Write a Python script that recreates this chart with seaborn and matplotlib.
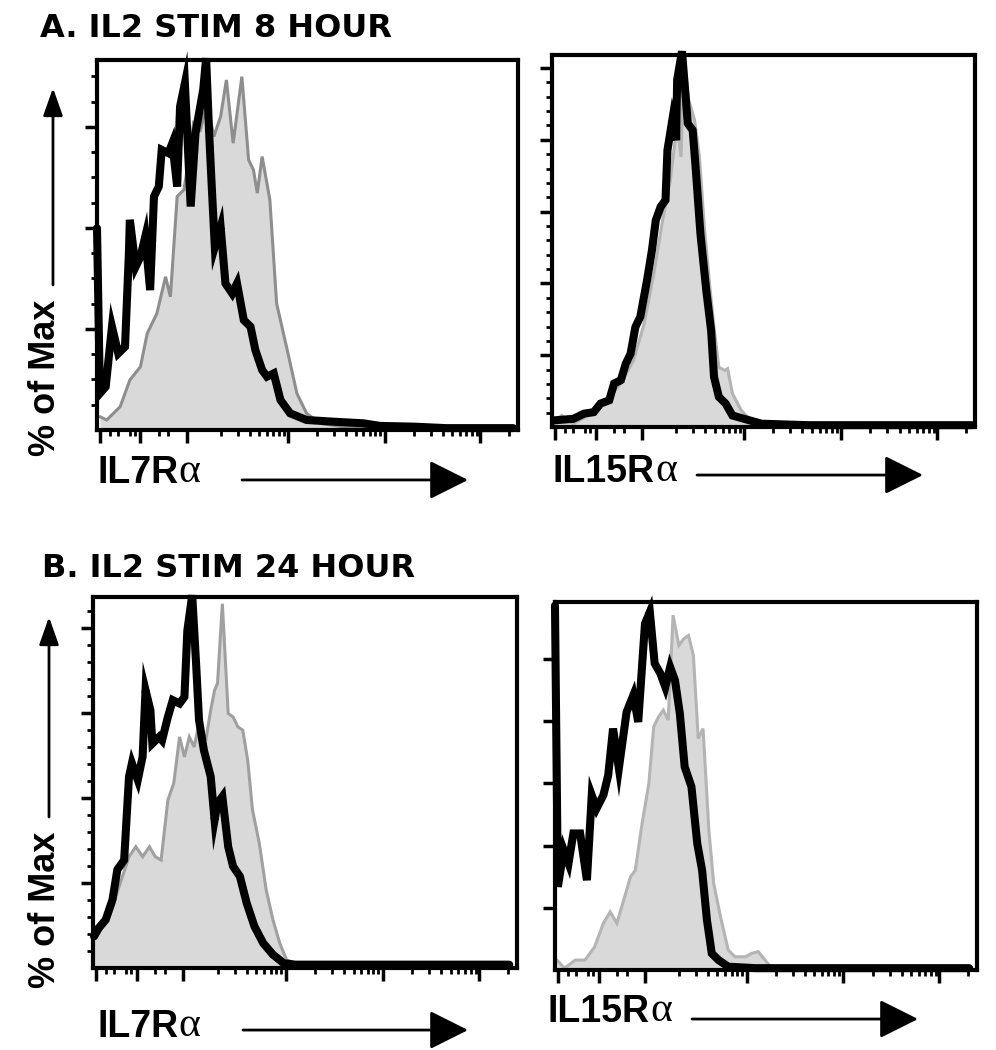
import numpy as np
import pandas as pd
import matplotlib
matplotlib.use("Agg")
import matplotlib.pyplot as plt
import seaborn as sns
from matplotlib.patches import FancyArrowPatch

sns.set_style("ticks")
plt.rcParams['font.family'] = ['Liberation Sans', 'DejaVu Sans']
plt.rcParams['text.color'] = 'black'

# x = fluorescence position in log-decades of the display, y = % of max
# A, IL7Ra (8 h): black = IL2 stimulated, grey filled = control
a_il7_stim_x = [0.0, 0.03, 0.09, 0.155, 0.22, 0.29, 0.33, 0.34, 0.40, 0.45, 0.50, 0.55, 0.59, 0.64,
                0.67, 0.74, 0.78, 0.83, 0.86, 0.91, 0.97, 1.02, 1.10, 1.13, 1.16, 1.19, 1.22, 1.28,
                1.33, 1.40, 1.45, 1.52, 1.59, 1.64, 1.71, 1.76, 1.83, 1.90, 2.00, 2.17, 2.41, 2.76,
                2.93, 3.28, 3.62, 4.31]
a_il7_stim_y = [54.5, 9.9, 11.7, 27.9, 20.7, 22.5, 47.7, 56.8, 44.1, 46.8, 52.3, 37.8, 63.1, 65.8,
                75.7, 74.8, 77.5, 65.8, 87.4, 93.7, 60.4, 80.2, 92.0, 100.5, 81.0, 64.9, 49.5, 54.9,
                39.6, 36.9, 39.6, 29.7, 27.9, 21.6, 16.2, 14.4, 15.3, 8.1, 4.5, 2.7, 2.3, 1.8,
                1.1, 0.9, 0.5, 0.5]
a_il7_ctrl_x = [0.03, 0.10, 0.24, 0.34, 0.45, 0.52, 0.62, 0.71, 0.76, 0.83, 0.90, 0.95, 1.00, 1.07,
                1.14, 1.21, 1.28, 1.34, 1.41, 1.50, 1.57, 1.62, 1.66, 1.71, 1.79, 1.86, 1.97, 2.07,
                2.17, 2.31, 2.59, 4.31]
a_il7_ctrl_y = [3.6, 2.7, 6.3, 13.5, 17.1, 26.1, 31.5, 41.4, 36.0, 63.1, 64.9, 73.0, 82.9, 81.1,
                88.3, 79.3, 84.7, 94.6, 77.5, 95.5, 73.0, 70.3, 64.0, 73.9, 62.2, 34.2, 21.6, 9.9,
                4.5, 1.8, 0.7, 0.5]

# A, IL15Ra (8 h)
a_il15_stim_x = [0.02, 0.22, 0.33, 0.43, 0.50, 0.59, 0.64, 0.71, 0.76, 0.81, 0.86, 0.91, 0.98, 1.03,
                 1.07, 1.12, 1.17, 1.19, 1.24, 1.28, 1.29, 1.34, 1.40, 1.45, 1.48, 1.53, 1.59, 1.64,
                 1.67, 1.72, 1.79, 1.86, 1.98, 2.16, 2.64, 4.33]
a_il15_stim_y = [1.8, 2.2, 3.6, 4.0, 6.3, 7.2, 11.7, 12.6, 17.0, 19.7, 26.9, 29.6, 39.5, 47.5,
                 55.6, 59.2, 61.0, 74.4, 82.5, 77.1, 93.3, 101.0, 81.6, 79.8, 70.0, 52.0, 36.8, 26.0,
                 13.5, 8.1, 6.3, 3.1, 2.2, 0.9, 0.5, 0.5]
a_il15_ctrl_x = [0.02, 0.10, 0.22, 0.47, 0.71, 0.84, 0.95, 1.05, 1.14, 1.22, 1.29, 1.33, 1.36, 1.41,
                 1.47, 1.52, 1.57, 1.62, 1.67, 1.72, 1.78, 1.81, 1.86, 1.95, 2.05, 2.29, 4.36]
a_il15_ctrl_y = [0.9, 3.1, 0.9, 4.5, 11.7, 17.9, 27.8, 41.3, 55.6, 66.4, 81.6, 72.6, 99.5, 87.9,
                 82.5, 72.6, 53.8, 39.5, 26.9, 16.1, 15.2, 15.7, 9.0, 4.5, 1.8, 0.9, 0.9]

# B, IL7Ra (24 h)
b_il7_stim_x = [0.01, 0.06, 0.13, 0.20, 0.25, 0.32, 0.37, 0.40, 0.46, 0.51, 0.54, 0.59, 0.61, 0.68,
                0.71, 0.77, 0.82, 0.89, 0.94, 0.97, 1.02, 1.06, 1.09, 1.14, 1.21, 1.25, 1.28, 1.33,
                1.39, 1.44, 1.51, 1.58, 1.66, 1.75, 1.85, 1.96, 2.08, 4.28]
b_il7_stim_y = [8.5, 10.8, 13.0, 18.4, 26.5, 29.1, 51.6, 55.2, 50.7, 57.0, 74.9, 69.5, 60.5, 62.3,
                61.4, 67.7, 72.2, 71.3, 73.1, 91.0, 100.5, 82.0, 66.8, 58.7, 51.6, 39.9, 44.4, 46.2,
                32.7, 27.4, 24.7, 17.5, 11.2, 6.7, 3.6, 1.3, 0.9, 0.9]
b_il7_ctrl_x = [0.01, 0.08, 0.18, 0.28, 0.37, 0.44, 0.51, 0.58, 0.64, 0.70, 0.77, 0.83, 0.89, 0.94,
                0.99, 1.04, 1.09, 1.16, 1.21, 1.25, 1.28, 1.33, 1.39, 1.44, 1.49, 1.54, 1.59, 1.64,
                1.71, 1.78, 1.85, 1.92, 1.99, 2.11, 4.28]
b_il7_ctrl_y = [11.2, 10.3, 14.8, 22.9, 30.0, 32.7, 30.0, 32.7, 30.0, 29.1, 45.3, 49.8, 62.3, 56.9,
                62.3, 59.6, 65.9, 61.4, 69.5, 74.9, 76.7, 98.2, 68.6, 67.7, 65.0, 64.1, 56.1, 42.6,
                33.6, 21.1, 13.0, 6.7, 2.2, 0.9, 0.9]

# B, IL15Ra (24 h)
b_il15_stim_x = [0.0, 0.03, 0.09, 0.14, 0.19, 0.26, 0.33, 0.38, 0.43, 0.50, 0.55, 0.60, 0.66, 0.74,
                 0.81, 0.86, 0.93, 0.98, 1.03, 1.09, 1.14, 1.19, 1.24, 1.29, 1.34, 1.41, 1.47, 1.52,
                 1.57, 1.62, 1.69, 1.79, 2.07, 4.28]
b_il15_stim_y = [99.0, 22.6, 32.6, 29.0, 37.1, 37.1, 24.4, 47.5, 43.9, 47.5, 52.9, 65.6, 54.8, 70.1,
                 74.7, 67.4, 94.1, 97.3, 83.3, 80.5, 76.9, 82.3, 78.7, 69.7, 55.2, 49.8, 34.4, 27.1,
                 13.6, 4.5, 2.7, 0.9, 0.5, 0.5]
b_il15_ctrl_x = [0.02, 0.10, 0.21, 0.31, 0.41, 0.50, 0.57, 0.64, 0.71, 0.78, 0.83, 0.90, 0.97, 1.02,
                 1.07, 1.12, 1.17, 1.22, 1.28, 1.33, 1.38, 1.43, 1.48, 1.53, 1.59, 1.64, 1.71, 1.79,
                 1.86, 1.97, 2.03, 2.10, 2.17, 2.24, 4.28]
b_il15_ctrl_y = [2.7, 0.5, 2.7, 2.7, 6.3, 12.7, 15.8, 12.7, 19.0, 25.3, 27.1, 39.8, 50.7, 66.1,
                 68.8, 70.6, 67.9, 96.4, 88.2, 90.0, 90.9, 85.5, 62.9, 65.6, 38.0, 23.5, 14.5, 5.4,
                 3.6, 3.6, 4.5, 5.0, 2.7, 0.5, 0.5]

titles = ["A. IL2 STIM 8 HOUR", "B. IL2 STIM 24 HOUR"]
markers = ["IL7R", "IL15R", "IL7R", "IL15R"]

x_major = [0.03, 0.45, 0.93, 1.98, 2.98, 3.97]
x_minor = [0.13, 0.22, 0.34, 0.39, 0.64, 0.74] + \
    [d + np.log10(k) for d in (0.98, 1.98, 2.98) for k in range(2, 10)] + [4.27]

# axes rects in figure fraction, y tick step (major, n minor per major)
panels = [
    dict(rect=[0.0974, 0.5905, 0.4227, 0.3524], stim=(a_il7_stim_x, a_il7_stim_y),
         ctrl=(a_il7_ctrl_x, a_il7_ctrl_y), ystep=27.3, nminor=4, grey="#8e8e8e"),
    dict(rect=[0.5542, 0.5933, 0.4247, 0.3543], stim=(a_il15_stim_x, a_il15_stim_y),
         ctrl=(a_il15_ctrl_x, a_il15_ctrl_y), ystep=19.3, nminor=5, grey="#b4b4b4"),
    dict(rect=[0.0934, 0.0781, 0.4257, 0.3533], stim=(b_il7_stim_x, b_il7_stim_y),
         ctrl=(b_il7_ctrl_x, b_il7_ctrl_y), ystep=22.9, nminor=5, grey="#a0a0a0"),
    dict(rect=[0.5572, 0.0762, 0.4237, 0.3505], stim=(b_il15_stim_x, b_il15_stim_y),
         ctrl=(b_il15_ctrl_x, b_il15_ctrl_y), ystep=16.9, nminor=1, grey="#b4b4b4"),
]

fig = plt.figure(figsize=(9.96, 10.5), dpi=100)

for p in panels:
    ax = fig.add_axes(p["rect"])
    cx, cy = p["ctrl"]
    sx, sy = p["stim"]
    ctrl = pd.DataFrame({"x": cx, "y": cy})
    stim = pd.DataFrame({"x": sx, "y": sy})

    ax.fill_between(ctrl["x"], 0, ctrl["y"], color="#d9d9d9", lw=0, zorder=1)
    sns.lineplot(data=ctrl, x="x", y="y", ax=ax, color=p["grey"], lw=2.2,
                 sort=False, estimator=None, zorder=2)
    sns.lineplot(data=stim, x="x", y="y", ax=ax, color="black", lw=5.8,
                 sort=False, estimator=None, zorder=3)
    for ln in ax.lines:
        ln.set_clip_on(False)
        ln.set_solid_joinstyle("miter")

    ax.set_xlim(0, 4.36)
    ax.set_ylim(0, 100)
    ax.set_xticks(x_major)
    ax.set_xticks(x_minor, minor=True)
    ax.set_yticks(np.arange(p["ystep"], 100, p["ystep"]))
    if p["nminor"] > 1:
        ax.set_yticks(np.arange(p["ystep"] / p["nminor"], 100, p["ystep"] / p["nminor"]), minor=True)
    ax.set_xticklabels([])
    ax.set_yticklabels([])
    ax.set_xlabel("")
    ax.set_ylabel("")
    ax.tick_params(which="major", direction="out", length=9, width=2.5, color="black")
    ax.tick_params(which="minor", direction="out", length=4, width=2, color="black")
    for sp in ax.spines.values():
        sp.set_visible(True)
        sp.set_linewidth(3)
        sp.set_color("black")
        sp.set_zorder(4)

# panel titles
fig.text(0.0402, 0.9648, titles[0], fontsize=23, fontweight="bold", family="DejaVu Sans")
fig.text(0.0420, 0.4505, titles[1], fontsize=23, fontweight="bold", family="DejaVu Sans")

# y axis labels with upward arrows
for ty, ay0, ay1, ax_x in [(0.640, 0.7286, 0.9162, 0.0532), (0.1333, 0.2219, 0.4124, 0.0492)]:
    fig.text(0.0452, ty, "% of Max", rotation=90, fontsize=26, fontweight="bold",
             ha="center", va="center")
    fig.add_artist(FancyArrowPatch((ax_x, ay0), (ax_x, ay1), transform=fig.transFigure,
                                   arrowstyle="-|>,head_length=17,head_width=6", lw=2,
                                   color="black", shrinkA=0, shrinkB=0))

# x axis labels with right arrows
xlab = [(0.0974, 0.540, 0.2430, 0.4699, 0.5429),
        (0.5552, 0.541, 0.6998, 0.9267, 0.5476),
        (0.0974, 0.0124, 0.2440, 0.4699, 0.0190),
        (0.5502, 0.0267, 0.6948, 0.9217, 0.0295)]
for (tx, ty, a0, a1, ay), name in zip(xlab, markers):
    t = fig.text(tx, ty, name, fontsize=27, fontweight="bold", va="baseline")
    plt.annotate("\u03b1", xy=(1.0, 0.0), xycoords=t, xytext=(0, 0), textcoords="offset points",
                 fontsize=30, family="Liberation Serif", va="bottom", annotation_clip=False)
    fig.add_artist(FancyArrowPatch((a0, ay), (a1, ay), transform=fig.transFigure,
                                   arrowstyle="-|>,head_length=24,head_width=12", lw=2,
                                   color="black", shrinkA=0, shrinkB=0))

fig.savefig("out.png", dpi=100)
